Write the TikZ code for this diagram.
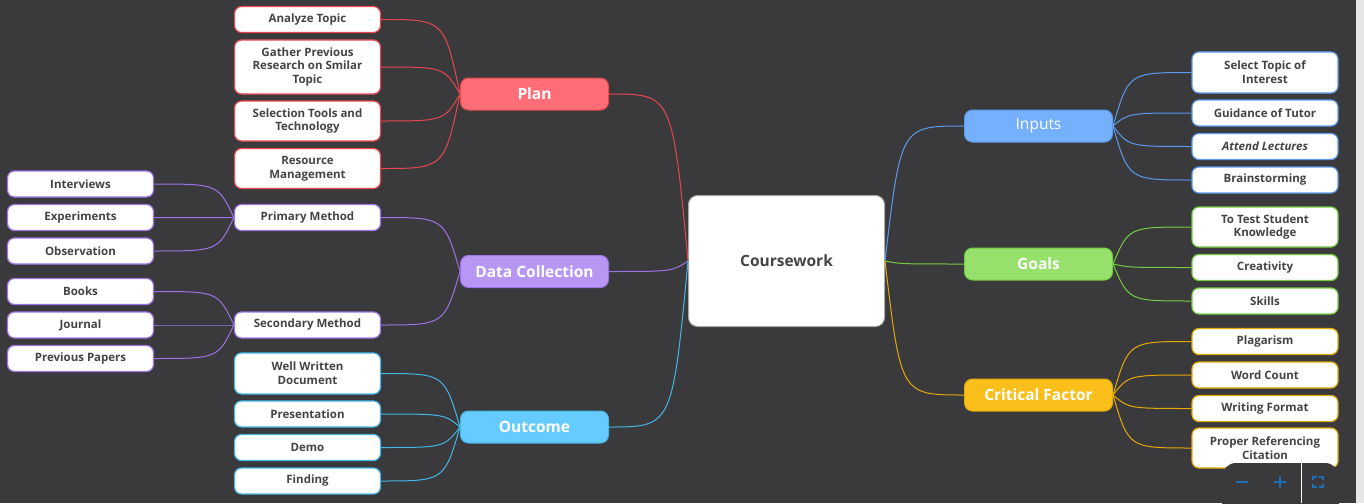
\documentclass[tikz,border=0pt]{standalone}
\usepackage{fontspec}
\setmainfont{Open Sans}
\usetikzlibrary{calc}
\definecolor{bg}{HTML}{3A393B}
\definecolor{strip}{HTML}{E6E6E6}
\definecolor{txt}{HTML}{444444}
\definecolor{planfill}{HTML}{FF6E76}
\definecolor{planline}{HTML}{E8474F}
\definecolor{datafill}{HTML}{B797F3}
\definecolor{dataline}{HTML}{9D74E6}
\definecolor{outfill}{HTML}{66CCFF}
\definecolor{outline}{HTML}{45B6E8}
\definecolor{infill}{HTML}{74B0FC}
\definecolor{inline}{HTML}{5B9BEF}
\definecolor{goalfill}{HTML}{97E06B}
\definecolor{goalline}{HTML}{74CC42}
\definecolor{critfill}{HTML}{FBBF1B}
\definecolor{critline}{HTML}{E5AA08}
\definecolor{zoomblue}{HTML}{1E6DB5}

\tikzset{
    leaf/.style={draw, fill=white, rounded corners=7pt, line width=1.2pt, minimum width=146pt,
        minimum height=26pt, align=center, inner sep=2pt, text=txt,
        font=\fontsize{11.5}{13.8}\selectfont\bfseries},
    branch/.style={draw, rounded corners=8pt, line width=1pt, minimum width=148pt,
        minimum height=32pt, text=white, font=\fontsize{15.5}{18}\selectfont\bfseries},
    fan/.style={line width=1pt,
        to path={.. controls ($(\tikztostart)!0.8!(\tikztotarget|-\tikztostart)$) .. (\tikztotarget)}},
}

\begin{document}
\begin{tikzpicture}[x=1pt, y=-1pt]
    \fill[bg] (0,0) rectangle (1364,503);
    \useasboundingbox (0,0) rectangle (1364,503);
    \fill[strip] (1356,0) rectangle (1364,503);

    \node (cw) [draw=gray!70, fill=white, line width=1pt, rounded corners=9pt, minimum width=196pt,
        minimum height=131pt, text=txt, font=\fontsize{15.5}{18}\selectfont\bfseries] at (786.5,261) {Coursework};

    % plan
    \node (plan) [branch, fill=planfill, draw=planline] at (534.5,94) {Plan};
    \node (analyze) [leaf, draw=planline] at (307.5,19.5) {Analyze Topic};
    \node (gather) [leaf, draw=planline, minimum height=54pt] at (307.5,67) {Gather Previous\\Research on Smilar\\Topic};
    \node (tools) [leaf, draw=planline, minimum height=40pt] at (307.5,121) {Selection Tools and\\Technology};
    \node (resource) [leaf, draw=planline, minimum height=40pt] at (307.5,168.5) {Resource\\Management};

    % data collection
    \node (data) [branch, fill=datafill, draw=dataline] at (534.5,271.5) {Data Collection};
    \node (primary) [leaf, draw=dataline] at (307.5,217.5) {Primary Method};
    \node (secondary) [leaf, draw=dataline] at (307.5,325) {Secondary Method};
    \node (interviews) [leaf, draw=dataline] at (80.5,184) {Interviews};
    \node (experiments) [leaf, draw=dataline] at (80.5,217.5) {Experiments};
    \node (observation) [leaf, draw=dataline] at (80.5,251) {Observation};
    \node (books) [leaf, draw=dataline] at (80.5,291.5) {Books};
    \node (journal) [leaf, draw=dataline] at (80.5,325) {Journal};
    \node (papers) [leaf, draw=dataline] at (80.5,358.5) {Previous Papers};

    % outcome
    \node (outcome) [branch, fill=outfill, draw=outline] at (534.5,427) {Outcome};
    \node (written) [leaf, draw=outline, minimum height=41pt] at (307.5,373.5) {Well Written\\Document};
    \node (presentation) [leaf, draw=outline] at (307.5,414) {Presentation};
    \node (demo) [leaf, draw=outline] at (307.5,447.5) {Demo};
    \node (finding) [leaf, draw=outline] at (307.5,481) {Finding};

    % inputs
    \node (inputs) [branch, fill=infill, draw=inline, font=\fontsize{15.5}{18}\selectfont] at (1038.5,126) {Inputs};
    \node (select) [leaf, draw=inline, minimum height=41pt] at (1265,72.5) {Select Topic of\\Interest};
    \node (guidance) [leaf, draw=inline] at (1265,113) {Guidance of Tutor};
    \node (attend) [leaf, draw=inline, font=\fontsize{11.5}{13.8}\selectfont\bfseries\itshape] at (1265,146.5) {Attend Lectures};
    \node (brainstorm) [leaf, draw=inline] at (1265,180) {Brainstorming};

    % goals
    \node (goals) [branch, fill=goalfill, draw=goalline] at (1038.5,264) {Goals};
    \node (knowledge) [leaf, draw=goalline, minimum height=40pt] at (1265,227) {To Test Student\\Knowledge};
    \node (creativity) [leaf, draw=goalline] at (1265,267.5) {Creativity};
    \node (skills) [leaf, draw=goalline] at (1265,301) {Skills};

    % critical factor
    \node (critical) [branch, fill=critfill, draw=critline] at (1038.5,395) {Critical Factor};
    \node (plagarism) [leaf, draw=critline] at (1265,341.5) {Plagarism};
    \node (wordcount) [leaf, draw=critline] at (1265,375) {Word Count};
    \node (format) [leaf, draw=critline] at (1265,408.5) {Writing Format};
    \node (citation) [leaf, draw=critline, minimum height=40pt] at (1265,448) {Proper Referencing\\Citation};

    \draw[planline, fan] (plan.east) to (cw.west);
    \draw[dataline, fan] (data.east) to (cw.west);
    \draw[outline, fan] (outcome.east) to (cw.west);
    \draw[inline, fan] (inputs.west) to (cw.east);
    \draw[goalline, fan] (goals.west) to (cw.east);
    \draw[critline, fan] (critical.west) to (cw.east);

    \draw[planline, fan] (analyze.east) to (plan.west);
    \draw[planline, fan] (gather.east) to (plan.west);
    \draw[planline, fan] (tools.east) to (plan.west);
    \draw[planline, fan] (resource.east) to (plan.west);

    \draw[dataline, fan] (primary.east) to (data.west);
    \draw[dataline, fan] (secondary.east) to (data.west);
    \draw[dataline, fan] (interviews.east) to (primary.west);
    \draw[dataline, fan] (experiments.east) to (primary.west);
    \draw[dataline, fan] (observation.east) to (primary.west);
    \draw[dataline, fan] (books.east) to (secondary.west);
    \draw[dataline, fan] (journal.east) to (secondary.west);
    \draw[dataline, fan] (papers.east) to (secondary.west);

    \draw[outline, fan] (written.east) to (outcome.west);
    \draw[outline, fan] (presentation.east) to (outcome.west);
    \draw[outline, fan] (demo.east) to (outcome.west);
    \draw[outline, fan] (finding.east) to (outcome.west);

    \draw[inline, fan] (select.west) to (inputs.east);
    \draw[inline, fan] (guidance.west) to (inputs.east);
    \draw[inline, fan] (attend.west) to (inputs.east);
    \draw[inline, fan] (brainstorm.west) to (inputs.east);

    \draw[goalline, fan] (knowledge.west) to (goals.east);
    \draw[goalline, fan] (creativity.west) to (goals.east);
    \draw[goalline, fan] (skills.west) to (goals.east);

    \draw[critline, fan] (plagarism.west) to (critical.east);
    \draw[critline, fan] (wordcount.west) to (critical.east);
    \draw[critline, fan] (format.west) to (critical.east);
    \draw[critline, fan] (citation.west) to (critical.east);

    % zoom controls
    \fill[bg, rounded corners=14pt] (1222,463) rectangle (1339,530);
    \draw[white, line width=1pt] (1301.5,463) -- (1301.5,503);
    \draw[zoomblue, line width=2.5pt] (1236,482) -- (1248,482);
    \draw[zoomblue, line width=2.5pt] (1274,482) -- (1286,482) (1280,476) -- (1280,488);
    \draw[zoomblue, line width=2pt] (1313,480) |- (1317,477) (1319,477) -| (1323,480)
        (1323,484) |- (1319,487) (1317,487) -| (1313,484);
\end{tikzpicture}
\end{document}
